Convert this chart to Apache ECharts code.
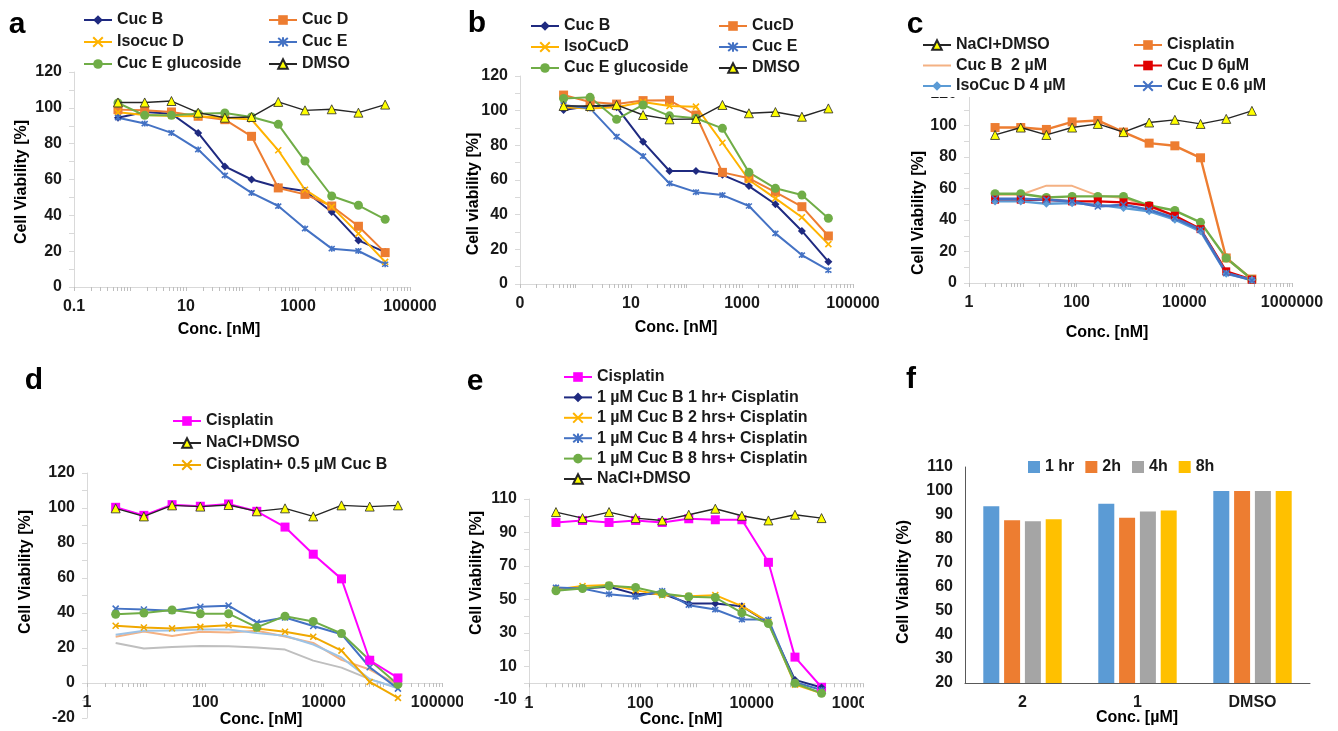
<!DOCTYPE html>
<html><head><meta charset="utf-8">
<script src="https://cdn.jsdelivr.net/npm/echarts@6/dist/echarts.min.js"></script>
<style>
html,body{margin:0;padding:0;background:#fff;width:1338px;height:731px;overflow:hidden}
.p{position:absolute;overflow:hidden}
</style></head><body>
<div id="pa" class="p" style="left:0;top:0;width:440px;height:350px"></div>
<div id="pb" class="p" style="left:440px;top:0;width:440px;height:350px"></div>
<div id="pc" class="p" style="left:880px;top:0;width:458px;height:350px"></div>
<div id="pd" class="p" style="left:0;top:350px;width:463px;height:381px"></div>
<div id="pe" class="p" style="left:463px;top:350px;width:401px;height:381px"></div>
<div id="pf" class="p" style="left:868px;top:350px;width:470px;height:381px"></div>
<script>
// ---------- data ----------
const concAB = [0.61, 1.83, 5.5, 16.5, 49.4, 148, 444, 1333, 4000, 12000, 36000];
const concCDE = [3.05, 9.15, 27.4, 82.3, 247, 741, 2222, 6667, 20000, 60000, 180000];

const aCucB = [94.5, 97.7, 96.7, 86, 67.3, 60, 55.8, 53.6, 41.9, 26, 19.5];
const aCucD = [99, 98.6, 97.7, 95.3, 93.4, 84.1, 55.3, 51.7, 45.2, 33.9, 19.2];
const aIsoCucD = [97.5, 96, 95.5, 95.3, 94.5, 93.5, 76.3, 54.3, 44.7, 29.8, 14];
const aCucE = [94.5, 91.2, 86, 76.7, 62.3, 52.5, 45.2, 32.6, 21.4, 20.1, 12.7];
const aCucEGluc = [102.7, 95.8, 95.8, 96.7, 97.1, 94.9, 90.8, 70.3, 50.8, 45.6, 37.8];
const aDMSO = [103, 103, 103.8, 97.3, 94.5, 94.9, 103.3, 98.6, 99.2, 97.3, 101.8];

const bCucB = [100.4, 102.7, 102, 82, 65.2, 65.2, 63, 56.5, 46, 30.6, 12.9];
const bCucD = [109, 105, 103.8, 105.8, 106, 97.5, 64.4, 61, 53, 44.6, 27.7];
const bIsoCucD = [102, 101.3, 102, 105, 102.7, 102.3, 81.5, 60, 49.4, 38.5, 23];
const bCucE = [103.3, 101.3, 85, 73.8, 58, 53, 51.3, 45, 29.2, 16.7, 8];
const bCucEGluc = [107, 107.7, 95, 103.3, 97, 95.6, 89.8, 64.4, 55.2, 51.3, 37.9];
const bDMSO = [102.7, 102.7, 103.3, 97.5, 95, 95.2, 103.3, 98.5, 99.2, 96.5, 101.3];

const cNaClDMSO = [94, 98.7, 94, 98.7, 101, 95.8, 101.9, 103.6, 101, 104.2, 109.3];
const cCisplatin = [98.7, 98.7, 97.5, 102.3, 103.2, 95.8, 88.8, 87.1, 79.5, 15.9, 2.5];
const cCucB2 = [56, 56, 61.8, 61.7, 55.5, 54, 48.5, 42.5, 34, 7, 2];
const cCucD6 = [52.9, 52.9, 52.9, 51.8, 51.8, 51.2, 49, 42.7, 34.2, 7.4, 2.1];
const cIsoCucD4 = [51.8, 51.8, 50.3, 50.7, 49.7, 47.6, 45.5, 40.2, 32.8, 5.9, 2.1];
const cCucE06 = [53.5, 53.5, 52.9, 51.8, 48.6, 49.7, 46.5, 41.2, 33.8, 6.3, 1.7];
const cGreen = [56.7, 56.7, 54.3, 55, 55, 55, 49.2, 46, 38.5, 15.9, 2.3];

const dCisplatin = [100.4, 95.8, 101.9, 101, 102.3, 98.1, 89.1, 73.6, 59.5, 13, 2.9];
const dNaClDMSO = [99.8, 95.2, 101.5, 100.8, 101.7, 98.1, 99.8, 95.2, 101.5, 100.8, 101.5];
const dCisCucB = [32.7, 31.7, 31.2, 32.1, 33, 31.2, 29.3, 26.4, 18.5, 0.6, -8.5];
const dBlue = [42.5, 42, 41.3, 43.6, 44.2, 34.6, 37.4, 32.6, 27.9, 9, -3.2];
const dGreen = [39.3, 40, 41.7, 39.6, 39.6, 31.8, 38.2, 35.2, 28.3, 13, -0.8];
const dLightBlue = [27.6, 29.8, 30, 30.6, 30.6, 28.5, 27, 22, 14.6, 2.2, -3];
const dSalmon = [26.4, 29.4, 26.8, 29.3, 28.8, 29.8, 26.6, 22.9, 13.2, 7.7, -1];
const dGrey = [22.9, 19.7, 20.6, 21.2, 21, 20.3, 19.1, 12.8, 8.8, 2.2, -2.8];

const eCisplatin = [96, 97.2, 96, 97.2, 96, 98.2, 97.6, 97.6, 72.2, 15.6, -2.4];
const eNaClDMSO = [102.2, 98.6, 102.2, 98.6, 97.2, 100.6, 104.2, 100, 97.2, 100.6, 98.6];
const eCucB1h = [56.6, 56.6, 57.6, 53.2, 53.6, 47.6, 47.6, 46, 36, 2, -2.5];
const eCucB2h = [56, 58, 58.6, 55.6, 52.6, 52, 52.6, 46, 36.6, -0.8, -6];
const eCucB4h = [57.2, 56.6, 53.2, 51.6, 55.2, 46.6, 44, 38, 38, 0.6, -4];
const eCucB8h = [55.2, 56.6, 58.2, 57.2, 53.6, 51.6, 51.2, 42, 35.6, 0, -6];

const fCategories = ['2', '1', 'DMSO'];
const f1hr = [93.6, 94.7, 100];
const f2h = [87.8, 88.9, 100];
const f4h = [87.4, 91.5, 100];
const f8h = [88.2, 91.9, 100];

const labelsAB = [0.1, 10, 1000, 100000];
const labelTextA = ['0.1', '10', '1000', '100000'];
const labelTextB = ['0', '10', '1000', '100000'];
const labelsCDE = [1, 100, 10000, 1000000];
const labelTextCDE = ['1', '100', '10000', '1000000'];

// ---------- helpers ----------
const FONT = "'Liberation Sans', Arial, Helvetica, sans-serif";
const TXT = '#1a1a1a';
const AX = '#d9d9d9';
const XMARK = 'path://M0 0L10 10M10 0L0 10';
const ASTER = 'path://M0 1L10 11M10 1L0 11M5 0L5 12';
const LINEICON = 'path://M0 0L0.01 0L0.01 0.01Z M0 5H30V7.2H0Z M0 12L0.01 12L0.01 11.99Z';

function logTicks(min, max) {
  const t = [];
  for (let e = Math.round(Math.log10(min)); e < Math.round(Math.log10(max)); e++) {
    for (let k = 1; k <= 9; k++) t.push(+(k * Math.pow(10, e)).toPrecision(6));
  }
  t.push(max);
  return t;
}
function xLog(min, max, vals, texts, offset) {
  return {
    type: 'log', logBase: 10, min, max, offset: offset || 0,
    axisLine: { show: true, onZero: false, lineStyle: { color: AX, width: 1 } },
    axisTick: { show: true, customValues: logTicks(min, max), length: 4, lineStyle: { color: '#bfbfbf' } },
    axisLabel: {
      customValues: vals, margin: 12, color: TXT, fontFamily: FONT, fontWeight: 'bold', fontSize: 16,
      formatter: v => { let best = 0, bd = 1e9; vals.forEach((l, i) => { const d = Math.abs(Math.log10(l) - Math.log10(v)); if (d < bd) { bd = d; best = i; } }); return texts[best]; }
    },
    splitLine: { show: false }, minorTick: { show: false }
  };
}
function yVal(min, max, interval) {
  return {
    type: 'value', min, max, interval,
    axisLine: { show: true, onZero: false, lineStyle: { color: AX } },
    axisTick: { show: true, length: 5, lineStyle: { color: AX } },
    minorTick: { show: true, splitNumber: 2, length: 5, lineStyle: { color: AX } },
    axisLabel: { margin: 12, color: TXT, fontFamily: FONT, fontWeight: 'bold', fontSize: 16 },
    splitLine: { show: false }, minorSplitLine: { show: false }
  };
}
function grid(left, top, width, height) {
  return { left, top, width, height, containLabel: false, outerBoundsMode: 'none' };
}
function ln(name, xs, ys, color, symbol, size, opt) {
  opt = opt || {};
  const stroke = symbol && symbol.indexOf('path://') === 0;
  return {
    type: 'line', name, data: xs.map((x, i) => [x, ys[i]]),
    symbol: symbol || 'none', symbolSize: size || 8, showSymbol: !!symbol,
    lineStyle: { color: opt.lineColor || color, width: opt.width || 2 },
    itemStyle: {
      color: opt.fill || color,
      borderColor: opt.border || color,
      borderWidth: stroke ? 1.6 : (opt.bw || 0)
    },
    emphasis: { disabled: true }, z: opt.z || 2, clip: false
  };
}
function dmso(name, xs, ys) {
  return ln(name, xs, ys, '#262626', 'triangle', 9, { fill: '#ffff00', border: '#262626', bw: 0.8, width: 1.4, z: 3 });
}
function leg(data, left, top, gap, extra) {
  return Object.assign({
    data, left, top, orient: 'vertical', itemWidth: 28, itemHeight: 12, itemGap: gap, padding: 0,
    selectedMode: false,
    textStyle: { fontFamily: FONT, fontWeight: 'bold', fontSize: 16, color: TXT, lineHeight: 16 }
  }, extra || {});
}
function txt(x, y, text, size, rot) {
  return {
    type: 'text', x, y, rotation: rot || 0, silent: true, z: 100,
    style: { text, font: 'bold ' + size + 'px ' + FONT, fill: '#000', align: 'center', verticalAlign: 'middle' }
  };
}
function make(id, option) {
  const c = echarts.init(document.getElementById(id), null, { renderer: 'canvas' });
  option.animation = false;
  option.textStyle = { fontFamily: FONT };
  c.setOption(option);
}

// ---------- panel a ----------
make('pa', {
  grid: grid(74, 72, 336, 215),
  xAxis: xLog(0.1, 100000, labelsAB, labelTextA),
  yAxis: yVal(0, 120, 20),
  legend: [leg(['Cuc B', 'Isocuc D', 'Cuc E glucoside'], 83, 12, 6), leg(['Cuc D', 'Cuc E', 'DMSO'], 268, 12, 6)],
  series: [
    ln('Cuc B', concAB, aCucB, '#1f2a80', 'diamond', 8),
    ln('Cuc D', concAB, aCucD, '#ed7d31', 'rect', 9),
    ln('Isocuc D', concAB, aIsoCucD, '#ffb300', XMARK, 6),
    ln('Cuc E', concAB, aCucE, '#4472c4', ASTER, 6),
    ln('Cuc E glucoside', concAB, aCucEGluc, '#70ad47', 'circle', 9),
    dmso('DMSO', concAB, aDMSO)
  ],
  graphic: [txt(17, 25, 'a', 30), txt(22, 182, 'Cell Viability [%]', 16, Math.PI / 2), txt(219, 330, 'Conc. [nM]', 16)]
});

// ---------- panel b ----------
make('pb', {
  grid: grid(80, 76, 333, 208),
  xAxis: xLog(0.1, 100000, labelsAB, labelTextB),
  yAxis: yVal(0, 120, 20),
  legend: [leg(['Cuc B', 'IsoCucD', 'Cuc E glucoside'], 90, 18, 5), leg(['CucD', 'Cuc E', 'DMSO'], 278, 18, 5)],
  series: [
    ln('Cuc B', concAB, bCucB, '#1f2a80', 'diamond', 8),
    ln('CucD', concAB, bCucD, '#ed7d31', 'rect', 9),
    ln('IsoCucD', concAB, bIsoCucD, '#ffb300', XMARK, 6),
    ln('Cuc E', concAB, bCucE, '#4472c4', ASTER, 6),
    ln('Cuc E glucoside', concAB, bCucEGluc, '#70ad47', 'circle', 9),
    dmso('DMSO', concAB, bDMSO)
  ],
  graphic: [txt(37, 24, 'b', 30), txt(34, 194, 'Cell viability [%]', 16, Math.PI / 2), txt(236, 328, 'Conc. [nM]', 16)]
});

// ---------- panel c ----------
make('pc', {
  grid: grid(89, 94, 323, 189),
  xAxis: xLog(1, 1000000, labelsCDE, labelTextCDE),
  yAxis: yVal(0, 120, 20),
  legend: [
    leg(['NaCl+DMSO', { name: 'Cuc B  2 µM', icon: LINEICON }, 'IsoCuc D 4 µM'], 42, 37, 4.5, { backgroundColor: '#fff', padding: [0, 4, 3, 0] }),
    leg(['Cisplatin', 'Cuc D 6µM', 'Cuc E 0.6 µM'], 253, 37, 4.5, { backgroundColor: '#fff', padding: [0, 0, 3, 0] })
  ],
  series: [
    ln('Cisplatin', concCDE, cCisplatin, '#ed7d31', 'rect', 9, { width: 2.4 }),
    ln('Cuc B  2 µM', concCDE, cCucB2, '#f4b183', null, 0, { width: 2 }),
    ln('Cuc E glucoside', concCDE, cGreen, '#70ad47', 'circle', 9, { width: 2.4 }),
    ln('Cuc D 6µM', concCDE, cCucD6, '#e00000', 'rect', 8, { width: 2.4 }),
    ln('IsoCuc D 4 µM', concCDE, cIsoCucD4, '#5b9bd5', 'diamond', 8, { width: 2.4 }),
    ln('Cuc E 0.6 µM', concCDE, cCucE06, '#4472c4', XMARK, 6, { width: 2.6 }),
    dmso('NaCl+DMSO', concCDE, cNaClDMSO)
  ],
  graphic: [txt(35, 25, 'c', 30), txt(39, 213, 'Cell Viability [%]', 16, Math.PI / 2), txt(227, 333, 'Conc. [nM]', 16)]
});

// ---------- panel d ----------
make('pd', {
  grid: grid(87, 123, 355, 245),
  xAxis: xLog(1, 1000000, labelsCDE, labelTextCDE, -35),
  yAxis: yVal(-20, 120, 20),
  legend: [leg(['Cisplatin', 'NaCl+DMSO', 'Cisplatin+ 0.5 µM Cuc B'], 172, 63, 6)],
  series: [
    ln('Grey', concCDE, dGrey, '#bfbfbf', null, 0),
    ln('Salmon', concCDE, dSalmon, '#f4b183', null, 0),
    ln('Light blue', concCDE, dLightBlue, '#9dc3e6', null, 0),
    ln('Cisplatin+ 0.5 µM Cuc B', concCDE, dCisCucB, '#f0a800', XMARK, 6),
    ln('Blue', concCDE, dBlue, '#4472c4', XMARK, 6),
    ln('Green', concCDE, dGreen, '#70ad47', 'circle', 9),
    ln('Cisplatin', concCDE, dCisplatin, '#ff00ff', 'rect', 9),
    dmso('NaCl+DMSO', concCDE, dNaClDMSO)
  ],
  graphic: [txt(34, 31, 'd', 30), txt(26, 222, 'Cell Viability [%]', 16, Math.PI / 2), txt(261, 370, 'Conc. [nM]', 16)]
});

// ---------- panel e ----------
make('pe', {
  grid: grid(66, 149, 334, 201),
  xAxis: xLog(1, 1000000, labelsCDE, labelTextCDE, -16.75),
  yAxis: yVal(-10, 110, 20),
  legend: [leg(['Cisplatin', '1 µM Cuc B 1 hr+ Cisplatin', '1 µM Cuc B 2 hrs+ Cisplatin', '1 µM Cuc B 4 hrs+ Cisplatin', '1 µM Cuc B 8 hrs+ Cisplatin', 'NaCl+DMSO'], 100, 19, 4.4)],
  series: [
    ln('Cisplatin', concCDE, eCisplatin, '#ff00ff', 'rect', 9),
    ln('1 µM Cuc B 1 hr+ Cisplatin', concCDE, eCucB1h, '#1f2a80', 'diamond', 8),
    ln('1 µM Cuc B 2 hrs+ Cisplatin', concCDE, eCucB2h, '#ffb300', XMARK, 6),
    ln('1 µM Cuc B 4 hrs+ Cisplatin', concCDE, eCucB4h, '#4472c4', ASTER, 6),
    ln('1 µM Cuc B 8 hrs+ Cisplatin', concCDE, eCucB8h, '#70ad47', 'circle', 9),
    dmso('NaCl+DMSO', concCDE, eNaClDMSO)
  ],
  graphic: [txt(12, 32, 'e', 30), txt(14, 223, 'Cell Viability [%]', 16, Math.PI / 2), txt(218, 370, 'Conc. [nM]', 16)]
});

// ---------- panel f ----------
const barStyle = (name, vals, color) => ({ type: 'bar', name, data: vals, barWidth: 16, barGap: '30%', itemStyle: { color }, emphasis: { disabled: true } });
make('pf', {
  grid: grid(97, 117, 345, 216),
  xAxis: {
    type: 'category', data: fCategories,
    axisLine: { show: true, lineStyle: { color: '#595959' } }, axisTick: { show: false },
    axisLabel: { margin: 12, color: TXT, fontFamily: FONT, fontWeight: 'bold', fontSize: 16 }
  },
  yAxis: {
    type: 'value', min: 20, max: 110, interval: 10,
    axisLine: { show: true, lineStyle: { color: '#595959' } }, axisTick: { show: false },
    axisLabel: { margin: 12, color: TXT, fontFamily: FONT, fontWeight: 'bold', fontSize: 16 },
    splitLine: { show: false }
  },
  legend: {
    data: ['1 hr', '2h', '4h', '8h'], left: 160, top: 109, orient: 'horizontal', icon: 'rect',
    itemWidth: 12, itemHeight: 12, itemGap: 11, padding: 0, selectedMode: false,
    textStyle: { fontFamily: FONT, fontWeight: 'bold', fontSize: 16, color: TXT, lineHeight: 16 }
  },
  series: [barStyle('1 hr', f1hr, '#5b9bd5'), barStyle('2h', f2h, '#ed7d31'), barStyle('4h', f4h, '#a5a5a5'), barStyle('8h', f8h, '#ffc000')],
  graphic: [txt(43, 30, 'f', 30), txt(36, 232, 'Cell Viability (%)', 16, Math.PI / 2), txt(269, 368, 'Conc. [µM]', 16)]
});
</script>
</body></html>
